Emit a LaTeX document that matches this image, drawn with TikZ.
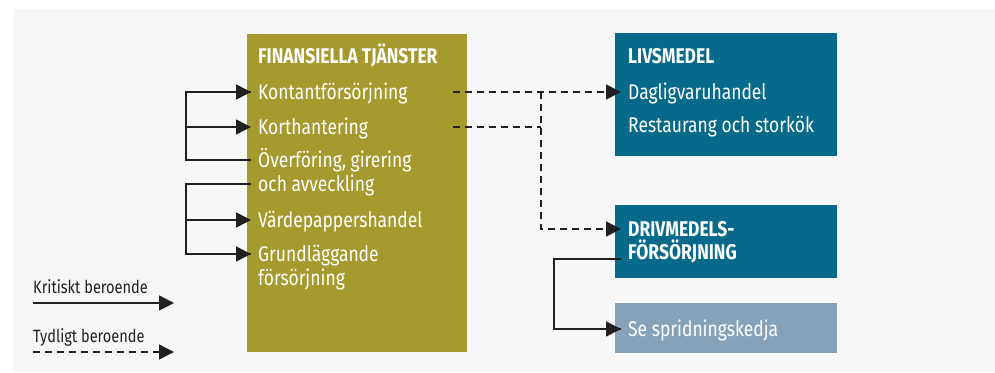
\documentclass[tikz,border=0pt]{standalone}
\usepackage{fontspec}
\setmainfont[FakeStretch=0.82]{Fira Sans}
\usepackage{tikz}
\usetikzlibrary{arrows.meta}

\definecolor{olive}{HTML}{A6992E}
\definecolor{teal}{HTML}{086A8A}
\definecolor{greyblue}{HTML}{84A3BA}
\definecolor{panel}{HTML}{F7F7F7}
\definecolor{ink}{HTML}{231F20}

\tikzset{
  box/.style={rectangle, anchor=north west, inner sep=0pt},
  item/.style={anchor=base west, inner xsep=7pt, inner ysep=0pt, text=white,
    text height=16pt, text depth=2pt, font=\fontsize{21.3}{25}\selectfont},
  head/.style={item, font=\fontsize{21.3}{25}\selectfont\bfseries},
  legtext/.style={anchor=base west, inner sep=0pt, text=ink, font=\fontsize{17.8}{21}\selectfont},
  plain/.style={draw=ink, line width=1.5pt},
  crit/.style={plain, -{Triangle[length=15pt,width=15pt]}},
  tydline/.style={plain, dash pattern=on 7pt off 5pt},
  tyd/.style={crit, dash pattern=on 7pt off 5pt}
}

\begin{document}
\begin{tikzpicture}[x=1pt, y=-1pt]
  \useasboundingbox (0,0) rectangle (995,372);
  \fill[panel] (13,9) rectangle (995,372);

  \node[box, fill=olive, minimum width=220pt, minimum height=318pt] (fin) at (247,34) {};
  \node[box, fill=teal, minimum width=222pt, minimum height=123pt] (liv) at (615,33) {};
  \node[box, fill=teal, minimum width=222pt, minimum height=73pt] (driv) at (615,205) {};
  \node[box, fill=greyblue, minimum width=222pt, minimum height=50pt] (se) at (615,303) {};

  \node[head] (fintitle) at (251,63) {FINANSIELLA TJÄNSTER};
  \node[item] (kontant) at (251,99) {Kontantförsörjning};
  \node[item] (kort) at (251,134) {Korthantering};
  \node[item] (overf) at (251,167) {Överföring, girering};
  \node[item] (avveck) at (251,191) {och avveckling};
  \node[item] (varde) at (251,227) {Värdepappershandel};
  \node[item] (grund) at (251,261) {Grundläggande};
  \node[item] (forsorj) at (251,285) {försörjning};

  \node[head] (livtitle) at (621,63) {LIVSMEDEL};
  \node[item] (dagl) at (621,99) {Dagligvaruhandel};
  \node[item] (rest) at (621,132) {Restaurang och storkök};

  \node[head] (driv1) at (621,236) {DRIVMEDELS-};
  \node[head] (driv2) at (621,259) {FÖRSÖRJNING};
  \node[item] (sprid) at (621,336) {Se spridningskedja};

  \node[legtext] (krit) at (33,293) {Kritiskt beroende};
  \node[legtext] (tydl) at (33,342) {Tydligt beroende};

  \coordinate (b1) at (186,0);
  \coordinate (b2) at (554,0);
  \coordinate (junc) at (541,92);
  \coordinate (kA) at (33,303);
  \coordinate (kB) at (174,303);
  \coordinate (tA) at (33,352);
  \coordinate (tB) at (174,352);

  \draw[plain] (overf.west) -- (overf.west -| b1) |- (kontant.west);
  \draw[crit] (kontant.west -| b1) -- (kontant.west);
  \draw[crit] (kort.west -| b1) -- (kort.west);
  \draw[plain] (avveck.west) -- (avveck.west -| b1) |- (grund.west);
  \draw[crit] (grund.west -| b1) -- (grund.west);
  \draw[crit] (varde.west -| b1) -- (varde.west);

  \draw[tyd] ([xshift=-14pt]fin.east |- kontant.west) -- (dagl.west);
  \draw[tydline] ([xshift=-14pt]fin.east |- kort.west) -- (kort.west -| junc);
  \draw[tyd] (junc) |- (driv1.west);
  \draw[plain] (driv2.base west) -- (driv2.base west -| b2) |- (sprid.west);
  \draw[crit] (sprid.west -| b2) -- (sprid.west);

  \draw[crit] (kA) -- (kB);
  \draw[tyd] (tA) -- (tB);
\end{tikzpicture}
\end{document}
